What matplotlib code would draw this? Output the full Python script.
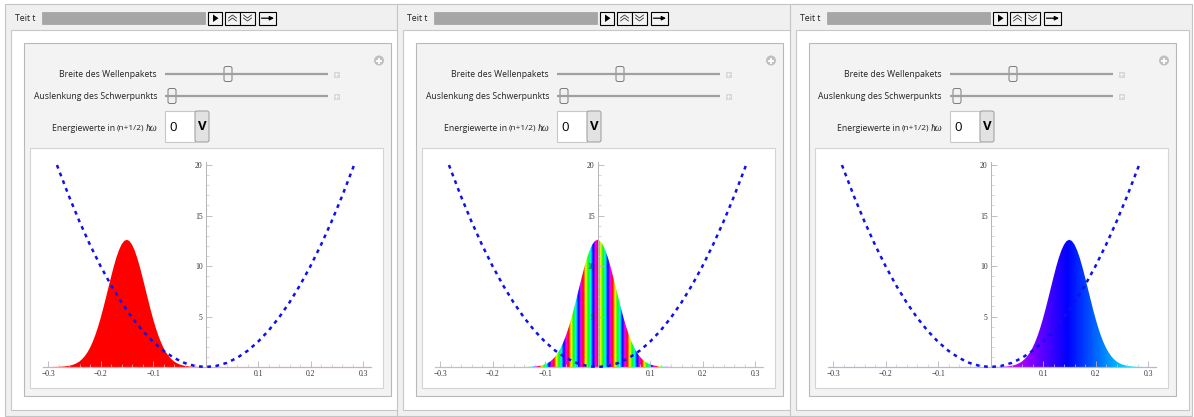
import matplotlib
matplotlib.use('Agg')
import matplotlib.pyplot as plt
import numpy as np
from matplotlib.patches import Rectangle, FancyBboxPatch, Circle, Polygon
from matplotlib.colors import hsv_to_rgb

# wave packet |psi|^2, sampled relative to the packet centre
offset = [-0.140, -0.135, -0.130, -0.125, -0.120, -0.115, -0.110, -0.105, -0.100, -0.095,
          -0.090, -0.085, -0.080, -0.075, -0.070, -0.065, -0.060, -0.055, -0.050, -0.045,
          -0.040, -0.035, -0.030, -0.025, -0.020, -0.015, -0.010, -0.005, 0.0,
          0.005, 0.010, 0.015, 0.020, 0.025, 0.030, 0.035, 0.040, 0.045, 0.050,
          0.055, 0.060, 0.065, 0.070, 0.075, 0.080, 0.085, 0.090, 0.095, 0.100,
          0.105, 0.110, 0.115, 0.120, 0.125, 0.130, 0.135, 0.140]
density = [0.01, 0.01, 0.02, 0.03, 0.05, 0.08, 0.12, 0.18, 0.27, 0.39,
           0.55, 0.78, 1.07, 1.44, 1.90, 2.47, 3.14, 3.92, 4.80, 5.77,
           6.80, 7.85, 8.90, 9.90, 10.80, 11.55, 12.12, 12.48, 12.6,
           12.48, 12.12, 11.55, 10.80, 9.90, 8.90, 7.85, 6.80, 5.77, 4.80,
           3.92, 3.14, 2.47, 1.90, 1.44, 1.07, 0.78, 0.55, 0.39, 0.27,
           0.18, 0.12, 0.08, 0.05, 0.03, 0.02, 0.01, 0.01]
centers = [-0.15, 0.0, 0.15]

# phase colouring (hue in turns) for each snapshot
phase_offset = [-0.14, -0.12, -0.10, -0.08, -0.06, -0.04, -0.02, 0.0, 0.02, 0.04, 0.06, 0.08, 0.10, 0.12, 0.14]
hue_left = [0.0] * 15
hue_mid = [-5.04, -4.32, -3.60, -2.88, -2.16, -1.44, -0.72, 0.0, 0.72, 1.44, 2.16, 2.88, 3.60, 4.32, 5.04]
hue_right = [h / 360 for h in [301, 292, 283, 274, 265, 256, 247, 238, 229, 220, 211, 202, 193, 184, 175]]
hues = [hue_left, hue_mid, hue_right]
axis_colors = ['#e4a8a8', '#c4bcc8', '#b4b4e4']

# harmonic potential
pot_x = [-0.283, -0.26, -0.24, -0.22, -0.20, -0.18, -0.16, -0.14, -0.12, -0.10, -0.08, -0.06, -0.04, -0.02, 0.0,
         0.02, 0.04, 0.06, 0.08, 0.10, 0.12, 0.14, 0.16, 0.18, 0.20, 0.22, 0.24, 0.26, 0.283]
pot_v = [20.0, 16.9, 14.4, 12.1, 10.0, 8.1, 6.4, 4.9, 3.6, 2.5, 1.6, 0.9, 0.4, 0.1, 0.0,
         0.1, 0.4, 0.9, 1.6, 2.5, 3.6, 4.9, 6.4, 8.1, 10.0, 12.1, 14.4, 16.9, 20.0]

xticks = [-0.3, -0.2, -0.1, 0.1, 0.2, 0.3]
yticks = [5, 10, 15, 20]

W, H = 1194, 417
fig = plt.figure(figsize=(W / 100, H / 100), dpi=100)
ui = fig.add_axes([0, 0, 1, 1])
ui.set_xlim(0, W)
ui.set_ylim(H, 0)
ui.axis('off')

sans = ['Open Sans', 'DejaVu Sans']
serif = ['Liberation Serif', 'DejaVu Serif']
offsets_px = [0, 392, 785]


def rect(x, y, w, h, fc, ec, lw=0.8):
    ui.add_patch(Rectangle((x, y), w, h, fc=fc, ec=ec, lw=lw))


def panel(dx):
    rect(5 + dx, 4, 402, 411.5, '#f0f0f0', '#c4c4c4')
    rect(11 + dx, 30, 393, 380, 'white', '#c8c8c8')
    rect(24 + dx, 43, 367, 353, '#f3f3f3', '#b8b8b8')
    rect(30 + dx, 148, 353, 240, 'white', '#d4d4d4')

    # top row: time slider and animation buttons
    ui.text(15 + dx, 18.5, 'Teit t', fontsize=6.3, family=sans, va='center', color='#222222')
    rect(42 + dx, 12, 163, 12, '#a6a6a6', '#a0a0a0', 0.5)
    rect(208 + dx, 11.5, 14, 13.5, '#f4f4f4', 'black')
    ui.add_patch(Polygon([(213 + dx, 14.5), (213 + dx, 22), (218.5 + dx, 18.2)], closed=True, fc='black', ec='none'))
    rect(225 + dx, 11.5, 15, 13.5, '#f4f4f4', 'black')
    rect(240 + dx, 11.5, 15, 13.5, '#f4f4f4', 'black')
    for yy in (16.5, 19.5):
        ui.plot([228.5 + dx, 232.5 + dx, 236.5 + dx], [yy + 1.5, yy - 1.5, yy + 1.5], color='#333333', lw=0.6)
        ui.plot([243.5 + dx, 247.5 + dx, 251.5 + dx], [yy - 1.5, yy + 1.5, yy - 1.5], color='#333333', lw=0.6)
    rect(259 + dx, 11.5, 17, 13.5, '#f4f4f4', 'black')
    ui.annotate('', xy=(274 + dx, 18.2), xytext=(261.5 + dx, 18.2),
                arrowprops=dict(arrowstyle='-|>', color='black', lw=0.9, mutation_scale=6, shrinkA=0, shrinkB=0))

    # add-icon in the corner
    ui.add_patch(Circle((379 + dx, 60.5), 5, fc='#c0c0c0', ec='none'))
    ui.plot([376 + dx, 382 + dx], [60.5, 60.5], color='white', lw=1.3, solid_capstyle='butt')
    ui.plot([379 + dx, 379 + dx], [57.5, 63.5], color='white', lw=1.3, solid_capstyle='butt')

    # two sliders
    for yy, label, knob in [(74, 'Breite des Wellenpakets', 228), (96, 'Auslenkung des Schwerpunkts', 172)]:
        ui.text(157 + dx, yy, label, fontsize=6.2, family=sans, ha='right', va='center', color='#222222')
        ui.plot([165 + dx, 328 + dx], [yy, yy], color='#a0a0a0', lw=1.6, solid_capstyle='butt')
        ui.add_patch(FancyBboxPatch((knob - 4 + dx, yy - 7.5), 8, 15,
                                    boxstyle='round,pad=0,rounding_size=2', fc='#f2f2f2', ec='#7a7a7a', lw=0.7))
        rect(333.5 + dx, yy - 2.5, 5, 5, '#dadada', '#cccccc', 0.4)
        ui.plot([334.5 + dx, 337.5 + dx], [yy, yy], color='white', lw=0.5)
        ui.plot([336 + dx, 336 + dx], [yy - 1.5, yy + 1.5], color='white', lw=0.5)

    # energy popup
    ui.text(115 + dx, 128, 'Energiewerte in', fontsize=6.2, family=sans, ha='right', va='center', color='#222222')
    ui.text(117 + dx, 128.3, '(n+1/2)', fontsize=6.0, family=sans, ha='left', va='center', color='#222222')
    ui.text(146 + dx, 128.3, 'ħω', fontsize=7, family=serif, style='italic', ha='left', va='center', color='#222222')
    rect(165 + dx, 111, 30, 31, 'white', '#c8c8c8')
    ui.text(169 + dx, 127, '0', fontsize=9.5, family=sans, va='center', color='black')
    ui.add_patch(FancyBboxPatch((195 + dx, 111), 14, 31, boxstyle='round,pad=0,rounding_size=2',
                                fc='#e2e2e2', ec='#9a9a9a', lw=0.7))
    ui.text(202 + dx, 126.5, 'V', fontsize=9.5, family=sans, weight='bold', ha='center', va='center', color='black')


for dx in offsets_px:
    panel(dx)

for i, dx in enumerate(offsets_px):
    left, right, top, bottom = 42.75 + dx, 370.9 + dx, 162.0, 367.0
    ax = fig.add_axes([left / W, 1 - bottom / H, (right - left) / W, (bottom - top) / H])
    ax.patch.set_visible(False)

    xs = np.array(offset) + centers[i]
    poly = ax.fill_between(xs, 0, density, facecolor='none', edgecolor='none')
    xf = np.linspace(xs[0], xs[-1], 800)
    hf = np.mod(np.interp(xf, np.array(phase_offset) + centers[i], hues[i]), 1.0)
    rgb = hsv_to_rgb(np.stack([hf, np.ones_like(hf), np.ones_like(hf)], axis=-1))[None, :, :]
    im = ax.imshow(rgb, extent=[xs[0], xs[-1], 0, 13], aspect='auto', zorder=1, interpolation='bilinear')
    im.set_clip_path(poly.get_paths()[0], transform=ax.transData)
    ax.set_xlim(-0.31, 0.315)
    ax.set_ylim(0, 20.3)

    ax.plot(pot_x, pot_v, color='#1010ee', lw=1.8, linestyle=(0, (1.5, 1.8)), zorder=3, clip_on=False)

    for side in ('top', 'right'):
        ax.spines[side].set_visible(False)
    ax.spines['left'].set_position(('data', 0))
    ax.spines['left'].set_color('#b4b4b4')
    ax.spines['bottom'].set_color(axis_colors[i])
    ax.spines['left'].set_linewidth(0.7)
    ax.spines['bottom'].set_linewidth(0.9)

    ax.set_xticks(xticks)
    ax.set_xticklabels(['−0.3', '−0.2', '−0.1', '0.1', '0.2', '0.3'])
    ax.set_xticks(np.arange(-0.3, 0.301, 0.02), minor=True)
    ax.set_yticks(yticks)
    ax.set_yticks(np.arange(1, 21, 1), minor=True)
    ax.tick_params(axis='both', which='major', labelsize=5.5, labelcolor='#333333', color='#b4b4b4',
                   direction='in', length=4, width=0.6, pad=2)
    ax.tick_params(axis='both', which='minor', color='#c8c8c8', direction='in', length=2, width=0.5)
    for lab in ax.get_xticklabels() + ax.get_yticklabels():
        lab.set_family(serif)

fig.savefig('out.png', dpi=100, facecolor='white')
